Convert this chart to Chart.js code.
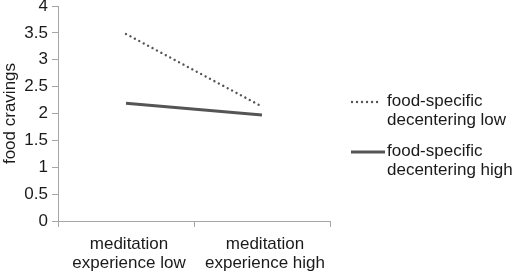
<!DOCTYPE html>
<html><head><meta charset="utf-8">
<script src="https://cdn.jsdelivr.net/npm/chart.js@4/dist/chart.umd.min.js"></script>
<style>html,body{margin:0;padding:0;background:#fff}#wrap{width:516px;height:274px;position:relative}</style>
</head><body><div id="wrap"><canvas id="c" width="516" height="274"></canvas></div>
<script>
const categories = [["meditation","experience low"],["meditation","experience high"]];
const seriesLabels = [["food-specific","decentering low"],["food-specific","decentering high"]];
const decenteringLow = [3.48, 2.13];
const decenteringHigh = [2.19, 1.97];
const yTicks = [0,0.5,1,1.5,2,2.5,3,3.5,4];
const yTitle = "food cravings";

const FONT = "'Liberation Sans', Arial, sans-serif";
const legendPlugin = {
  id:'customLegend',
  afterDraw(chart){
    const ctx = chart.ctx;
    const items = [{y:101},{y:151}];
    chart.data.datasets.forEach((ds,i)=>{
      const y0 = items[i].y;
      ctx.save();
      ctx.strokeStyle = ds.borderColor;
      ctx.lineWidth = ds.borderWidth;
      ctx.lineCap = ds.borderCapStyle || 'butt';
      ctx.setLineDash(ds.borderDash || []);
      ctx.beginPath();
      ctx.moveTo(i===0?352:351, y0+1);
      ctx.lineTo(i===0?379:385, y0+1);
      ctx.stroke();
      ctx.setLineDash([]);
      ctx.fillStyle = '#1a1a1a';
      ctx.font = '17px ' + FONT;
      ctx.textBaseline = 'middle';
      const lines = seriesLabels[i];
      lines.forEach((t,k)=> ctx.fillText(t, 387, y0 + k*19));
      ctx.restore();
    });
  }
};

new Chart(document.getElementById('c'), {
  type:'line',
  data:{
    labels: categories,
    datasets:[
      {label:seriesLabels[0].join(' '), data:decenteringLow, borderColor:'#555555', borderWidth:2.4, borderDash:[0.01,5], borderCapStyle:'round', pointRadius:0, fill:false, tension:0},
      {label:seriesLabels[1].join(' '), data:decenteringHigh, borderColor:'#555555', borderWidth:3, pointRadius:0, fill:false, tension:0}
    ]
  },
  options:{
    responsive:false, animation:false,
    layout:{padding:{left:0,right:186,top:6,bottom:0}},
    plugins:{legend:{display:false}, tooltip:{enabled:false}},
    scales:{
      x:{
        offset:true,
        grid:{offset:true, drawOnChartArea:false, color:'#a6a6a6', tickLength:6, lineWidth:1},
        border:{color:'#a6a6a6'},
        ticks:{color:'#1a1a1a', font:{family:FONT,size:17, lineHeight:1.1}, maxRotation:0, padding:8, labelOffset:3},
        afterFit(s){ s.height = 53; s.paddingLeft = 0; s.paddingRight = 0; }
      },
      y:{
        min:0, max:4,
        afterBuildTicks(s){ s.ticks = yTicks.map(v=>({value:v})); },
        grid:{drawOnChartArea:false, color:'#a6a6a6', tickLength:6},
        border:{color:'#a6a6a6'},
        ticks:{color:'#1a1a1a', font:{family:FONT,size:17}, padding:4, callback:(v)=>String(v)},
        title:{display:true, text:yTitle, color:'#1a1a1a', font:{family:FONT,size:17}, padding:{top:0,bottom:0}},
        afterFit(s){ s.width = 58; s.paddingTop = 0; s.paddingBottom = 0; }
      }
    }
  },
  plugins:[legendPlugin]
});
</script></body></html>
